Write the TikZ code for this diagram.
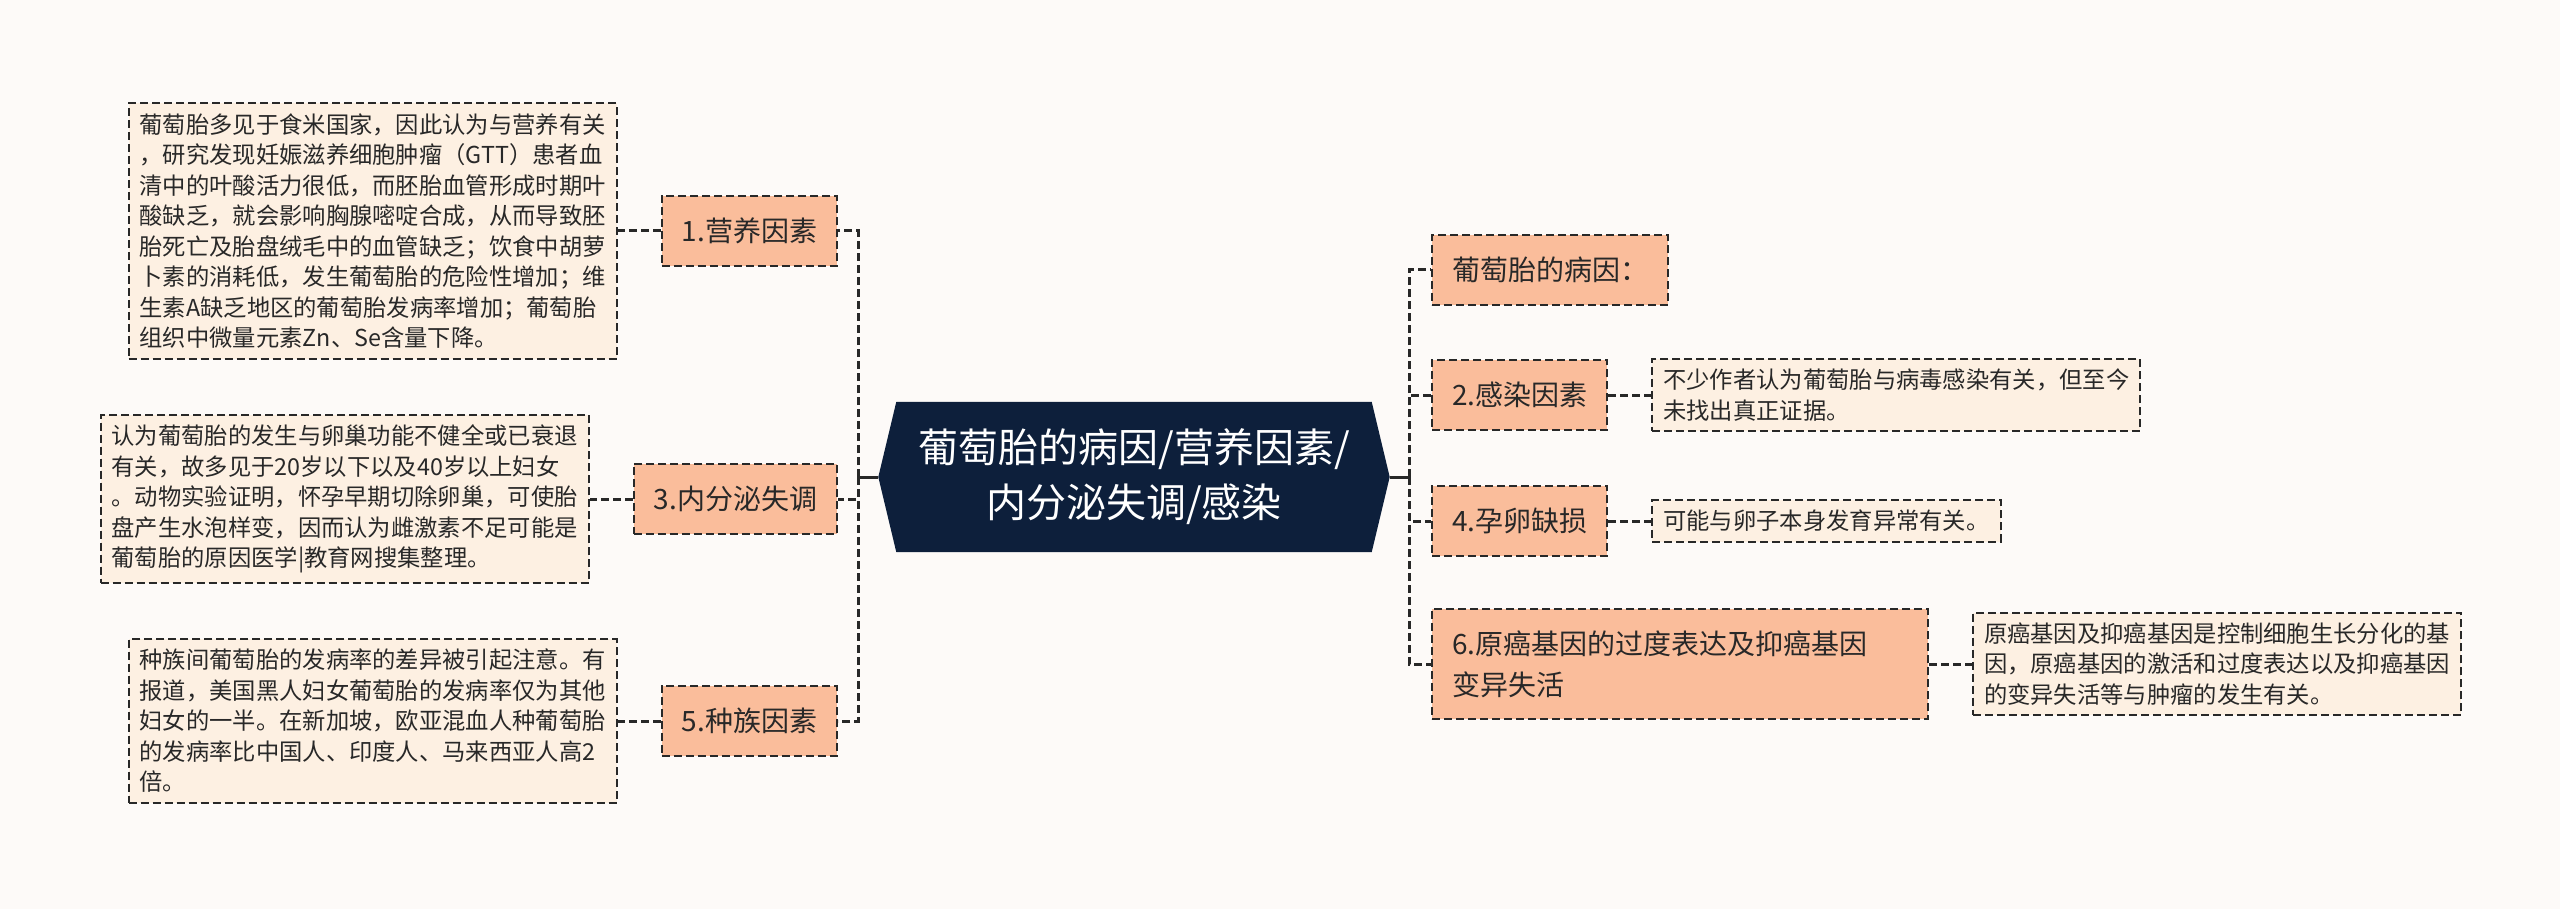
\documentclass[tikz,border=0pt]{standalone}
\usepackage{fontspec}
\setmainfont{Noto Sans CJK SC}
\usepackage{xcolor}
\definecolor{navy}{RGB}{13,31,59}
\definecolor{salmon}{RGB}{250,189,155}
\definecolor{cream}{RGB}{253,240,226}
\definecolor{coal}{RGB}{40,40,40}
\definecolor{paper}{RGB}{253,250,248}
\usetikzlibrary{positioning,backgrounds}

\begin{document}
\begin{tikzpicture}[x=1pt,y=-1pt,
  root/.style={text=white,font=\fontsize{40}{55}\selectfont,align=center,
               minimum width=475pt,minimum height=150pt,inner sep=0pt},
  lvl/.style={rectangle,fill=salmon,draw=coal,line width=2pt,
              dash pattern=on 8pt off 4pt,text=coal,
              font=\fontsize{28}{41}\selectfont,inner xsep=20pt,minimum height=70pt},
  dtl/.style={rectangle,fill=cream,draw=coal,line width=2pt,
              dash pattern=on 8pt off 4pt,text=coal,align=left,
              font=\fontsize{23.3}{30.5}\selectfont,inner xsep=11pt,inner ysep=10pt},
  ln/.style={draw=coal,line width=3pt,dash pattern=on 8pt off 4pt},
  stub/.style={draw=coal,line width=3pt},
  node distance=43pt,
]
  \useasboundingbox (0,0) rectangle (2560,909);
  % centre
  \node[root](root) at (1134,477){葡萄胎的病因/营养因素/\\内分泌失调/感染};
  \coordinate (ltip) at ([xshift=-18pt]root.west);
  \coordinate (rtip) at ([xshift=18pt]root.east);
  \coordinate (lj) at (858,477);
  \coordinate (rj) at (1409,477);
  \begin{scope}[on background layer]
    \fill[paper] (0,0) rectangle (2560,909);
    \fill[navy] (root.north west) -- (root.north east) -- (rtip)
      -- (root.south east) -- (root.south west) -- (ltip) -- cycle;
  \end{scope}
  % left branch
  \node[lvl,anchor=east](n1) at (838,231){1.营养因素};
  \node[lvl,anchor=east](n3) at (838,499){3.内分泌失调};
  \node[lvl,anchor=east](n5) at (838,721){5.种族因素};
  \node[dtl,left=of n1](d1){葡萄胎多见于食米国家，因此认为与营养有关\\
    ，研究发现妊娠滋养细胞肿瘤（GTT）患者血\\
    清中的叶酸活力很低，而胚胎血管形成时期叶\\
    酸缺乏，就会影响胸腺嘧啶合成，从而导致胚\\
    胎死亡及胎盘绒毛中的血管缺乏；饮食中胡萝\\
    卜素的消耗低，发生葡萄胎的危险性增加；维\\
    生素A缺乏地区的葡萄胎发病率增加；葡萄胎\\
    组织中微量元素Zn、Se含量下降。};
  \node[dtl,left=of n3](d3){认为葡萄胎的发生与卵巢功能不健全或已衰退\\
    有关，故多见于20岁以下以及40岁以上妇女\\
    。动物实验证明，怀孕早期切除卵巢，可使胎\\
    盘产生水泡样变，因而认为雌激素不足可能是\\
    葡萄胎的原因医学|教育网搜集整理。};
  \node[dtl,left=of n5](d5){种族间葡萄胎的发病率的差异被引起注意。有\\
    报道，美国黑人妇女葡萄胎的发病率仅为其他\\
    妇女的一半。在新加坡，欧亚混血人种葡萄胎\\
    的发病率比中国人、印度人、马来西亚人高2\\
    倍。};
  % right branch
  \node[lvl,anchor=west](r0) at (1431,270){葡萄胎的病因：};
  \node[lvl,anchor=west](r2) at (1431,395){2.感染因素};
  \node[lvl,anchor=west](r4) at (1431,521){4.孕卵缺损};
  \node[lvl,anchor=west,text width=456pt,align=left,minimum height=110pt](r6)
    at (1431,664){6.原癌基因的过度表达及抑癌基因\\变异失活};
  \node[dtl,right=of r2](d2){不少作者认为葡萄胎与病毒感染有关，但至今\\
    未找出真正证据。};
  \node[dtl,right=of r4](d4){可能与卵子本身发育异常有关。};
  \node[dtl,right=of r6](d6){原癌基因及抑癌基因是控制细胞生长分化的基\\
    因，原癌基因的激活和过度表达以及抑癌基因\\
    的变异失活等与肿瘤的发生有关。};
  % connectors
  \draw[stub](ltip)--(lj);
  \draw[stub](rtip)--(rj);
  \draw[ln](lj)|-(n1.east);
  \draw[ln](lj)|-(n3.east);
  \draw[ln](lj)|-(n5.east);
  \draw[ln](rj)|-(r0.west);
  \draw[ln](rj)|-(r2.west);
  \draw[ln](rj)|-(r4.west);
  \draw[ln](rj)|-(r6.west);
  \draw[ln](n1.west)--(d1.east);
  \draw[ln](n3.west)--(d3.east);
  \draw[ln](n5.west)--(d5.east);
  \draw[ln](r2.east)--(d2.west);
  \draw[ln](r4.east)--(d4.west);
  \draw[ln](r6.east)--(d6.west);
\end{tikzpicture}
\end{document}
